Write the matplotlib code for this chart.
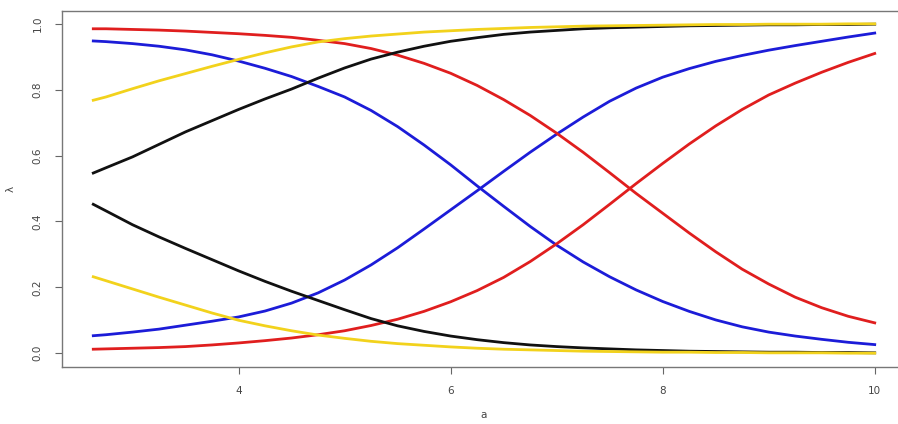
import matplotlib
matplotlib.use("Agg")
import matplotlib.pyplot as plt

a_vals = [2.63, 2.75, 3.0, 3.25, 3.5, 3.75, 4.0, 4.25, 4.5, 4.75, 5.0, 5.25, 5.5, 5.75, 6.0, 6.25,
          6.5, 6.75, 7.0, 7.25, 7.5, 7.75, 8.0, 8.25, 8.5, 8.75, 9.0, 9.25, 9.5, 9.75, 10.0]

red_up = [0.012, 0.013, 0.015, 0.017, 0.020, 0.025, 0.031, 0.038, 0.046, 0.056, 0.068, 0.084, 0.103, 0.127,
          0.156, 0.190, 0.230, 0.278, 0.332, 0.390, 0.452, 0.515, 0.576, 0.635, 0.690, 0.740, 0.784, 0.820,
          0.853, 0.883, 0.910]
red_down = [0.985, 0.985, 0.983, 0.981, 0.978, 0.974, 0.970, 0.965, 0.959, 0.950, 0.940, 0.925, 0.905, 0.880,
            0.850, 0.813, 0.770, 0.722, 0.668, 0.610, 0.548, 0.485, 0.425, 0.365, 0.308, 0.255, 0.210, 0.170,
            0.138, 0.112, 0.092]
blue_up = [0.053, 0.056, 0.064, 0.073, 0.085, 0.097, 0.110, 0.128, 0.152, 0.183, 0.222, 0.268, 0.320, 0.377,
           0.435, 0.493, 0.552, 0.610, 0.665, 0.717, 0.765, 0.805, 0.838, 0.864, 0.886, 0.904, 0.920, 0.934,
           0.947, 0.960, 0.972]
blue_down = [0.948, 0.946, 0.940, 0.932, 0.921, 0.906, 0.887, 0.865, 0.840, 0.810, 0.778, 0.737, 0.688, 0.632,
             0.572, 0.508, 0.446, 0.385, 0.328, 0.277, 0.232, 0.192, 0.157, 0.127, 0.101, 0.080, 0.064, 0.052,
             0.042, 0.033, 0.026]
black_up = [0.547, 0.563, 0.596, 0.634, 0.672, 0.706, 0.740, 0.772, 0.802, 0.835, 0.866, 0.893, 0.914, 0.932,
            0.947, 0.958, 0.968, 0.975, 0.980, 0.985, 0.988, 0.990, 0.992, 0.994, 0.995, 0.996, 0.997, 0.997,
            0.998, 0.998, 0.999]
black_down = [0.452, 0.432, 0.390, 0.353, 0.318, 0.284, 0.250, 0.218, 0.188, 0.160, 0.132, 0.105, 0.083, 0.066,
              0.052, 0.041, 0.032, 0.025, 0.020, 0.016, 0.013, 0.010, 0.008, 0.006, 0.005, 0.004, 0.003, 0.003,
              0.002, 0.002, 0.001]
yellow_up = [0.768, 0.778, 0.803, 0.827, 0.849, 0.871, 0.892, 0.912, 0.930, 0.945, 0.955, 0.963, 0.969, 0.975,
             0.979, 0.983, 0.986, 0.989, 0.991, 0.993, 0.994, 0.995, 0.996, 0.997, 0.998, 0.998, 0.999, 0.999,
             0.999, 1.000, 1.000]
yellow_down = [0.232, 0.220, 0.195, 0.170, 0.146, 0.122, 0.100, 0.083, 0.068, 0.055, 0.045, 0.036, 0.029, 0.024,
               0.019, 0.015, 0.012, 0.010, 0.008, 0.006, 0.005, 0.004, 0.003, 0.003, 0.002, 0.002, 0.001, 0.001,
               0.001, 0.000, 0.000]

x_ticks = [4, 6, 8, 10]
y_ticks = [0.0, 0.2, 0.4, 0.6, 0.8, 1.0]

fig = plt.figure(figsize=(8.98, 4.24), dpi=100)
ax = fig.add_axes([62 / 898, 57 / 424, 844 / 898, 356 / 424])

lw = 2.0
ax.plot(a_vals, blue_up, color='#1c1cd8', lw=lw)
ax.plot(a_vals, blue_down, color='#1c1cd8', lw=lw)
ax.plot(a_vals, red_up, color='#e01e1e', lw=lw)
ax.plot(a_vals, red_down, color='#e01e1e', lw=lw)
ax.plot(a_vals, black_up, color='#111111', lw=lw)
ax.plot(a_vals, black_down, color='#111111', lw=lw)
ax.plot(a_vals, yellow_up, color='#f2d21c', lw=lw)
ax.plot(a_vals, yellow_down, color='#f2d21c', lw=lw)

ax.set_xlim(2.335, 10.295)
ax.set_ylim(-0.042, 1.039)

ax.set_xticks(x_ticks)
ax.set_xticklabels([str(t) for t in x_ticks])
ax.set_yticks(y_ticks)
ax.set_yticklabels(['%.1f' % t for t in y_ticks], rotation=90, va='center')

for s in ax.spines.values():
    s.set_color('#777777')
    s.set_linewidth(1.0)

ax.tick_params(direction='out', length=5, width=0.8, color='#666666',
               labelsize=7.5, labelcolor='#444444')
ax.tick_params(axis='x', pad=9)
ax.tick_params(axis='y', pad=9)

ax.set_xlabel('a', fontsize=7.5, color='#444444', labelpad=10)
ax.set_ylabel('λ', fontsize=7.5, color='#444444', labelpad=12)

fig.savefig('out.png', dpi=100)
